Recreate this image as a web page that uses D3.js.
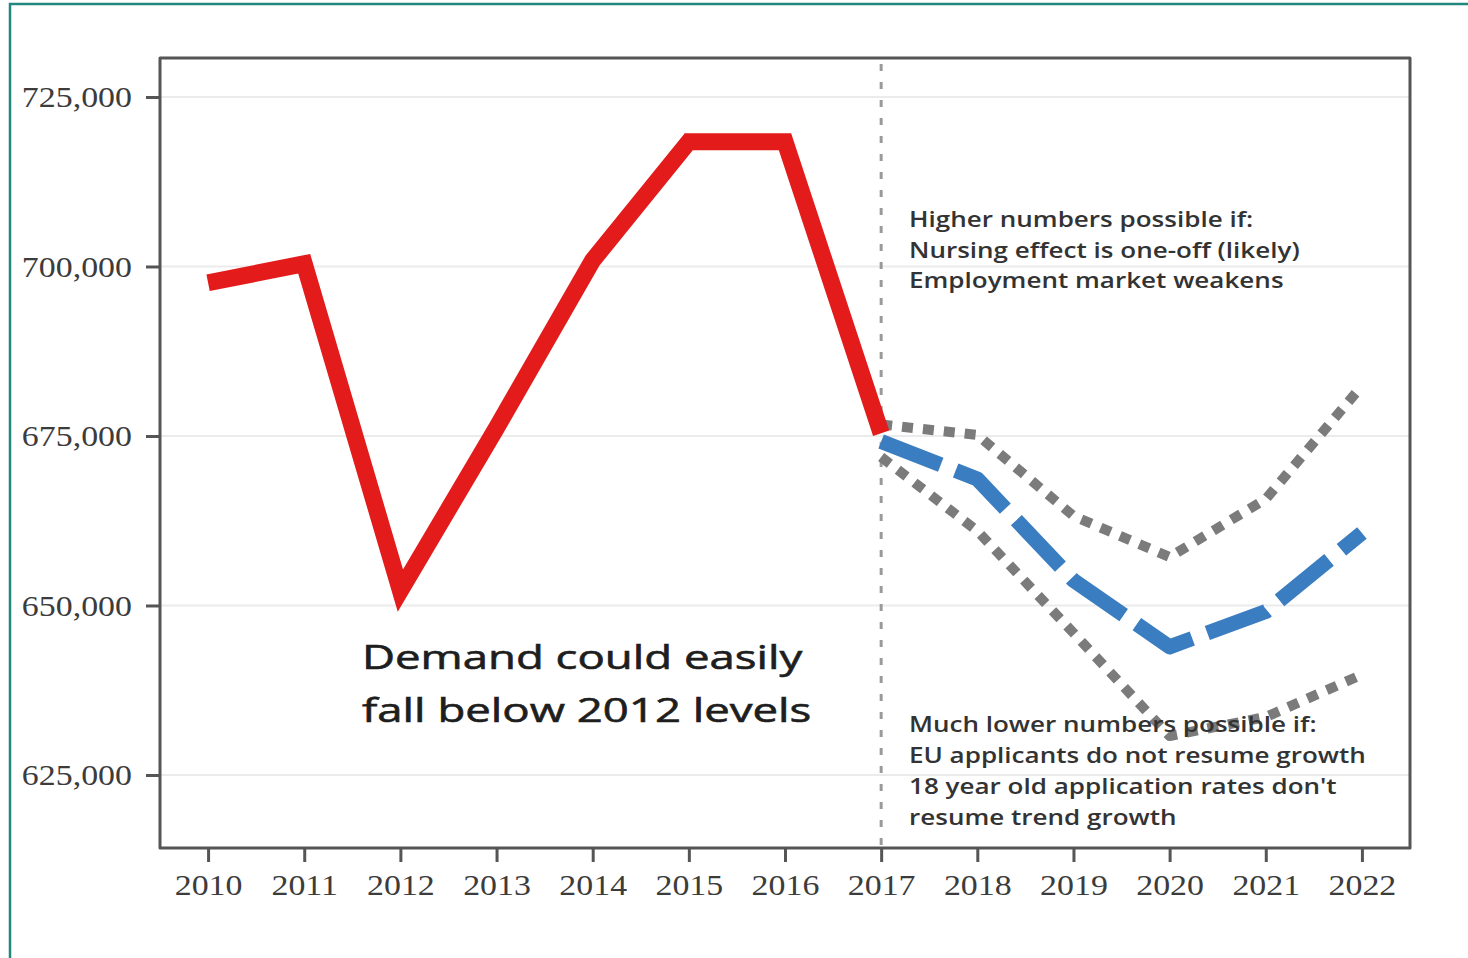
<!DOCTYPE html>
<html>
<head>
<meta charset="utf-8">
<script src="https://cdn.jsdelivr.net/npm/d3@7"></script>
<style>
  html, body { margin: 0; padding: 0; background: #ffffff; }
  svg { display: block; }
</style>
</head>
<body>
<svg id="chart" width="1468" height="958"></svg>
<script>
// Applications: actual outturn 2010-2017 and projections 2017-2022
const years = [2010, 2011, 2012, 2013, 2014, 2015, 2016, 2017, 2018, 2019, 2020, 2021, 2022];
const actualYears = [2010, 2011, 2012, 2013, 2014, 2015, 2016, 2017];
const actualValues = [697600, 700400, 652200, 676200, 700900, 718400, 718400, 675400];
const forecastYears = [2017, 2018, 2019, 2020, 2021, 2022];
const centralValues = [674200, 668650, 653700, 643900, 649100, 660700];
const upperValues = [676700, 675150, 663200, 657150, 665700, 682400];
const lowerValues = [671900, 661000, 645950, 630750, 633550, 639800];
const yTicks = [625000, 650000, 675000, 700000, 725000];
const splitYear = 2017;

const upperNote = ["Higher numbers possible if:", "Nursing effect is one-off (likely)", "Employment market weakens"];
const lowerNote = ["Much lower numbers possible if:", "EU applicants do not resume growth", "18 year old application rates don't", "resume trend growth"];
const headline = ["Demand could easily", "fall below 2012 levels"];

const svg = d3.select("#chart");
const plot = { left: 160, right: 1410, top: 58, bottom: 848 };

const x = d3.scaleLinear().domain([2009.5, 2022.5]).range([plot.left, plot.right]);
const y = d3.scaleLinear().domain([614230, 730750]).range([plot.bottom, plot.top]);

// outer page frame
svg.append("path")
  .attr("d", `M10,958 L10,4 L1468,4`)
  .attr("fill", "none")
  .attr("stroke", "#23877f")
  .attr("stroke-width", 2.5);

// horizontal gridlines
svg.append("g").selectAll("line").data(yTicks).join("line")
  .attr("x1", plot.left).attr("x2", plot.right)
  .attr("y1", d => y(d)).attr("y2", d => y(d))
  .attr("stroke", "#ebebeb").attr("stroke-width", 2);

// vertical divider between actuals and projections
svg.append("line")
  .attr("x1", x(splitYear)).attr("x2", x(splitYear))
  .attr("y1", plot.top + 6).attr("y2", plot.bottom)
  .attr("stroke", "#9a9a9a").attr("stroke-width", 3)
  .attr("stroke-dasharray", "7,11");

const serifScale = 1.13;

// y axis
const yAxis = svg.append("g")
  .attr("transform", `translate(${plot.left},0)`)
  .call(d3.axisLeft(y).tickValues(yTicks).tickFormat(d3.format(",")).tickSize(14).tickSizeOuter(0).tickPadding(14));
yAxis.select(".domain").remove();
yAxis.selectAll(".tick line").attr("stroke", "#555").attr("stroke-width", 3);
yAxis.selectAll(".tick text")
  .attr("font-family", "'Liberation Serif', 'Times New Roman', serif")
  .attr("font-size", 30)
  .attr("fill", "#3c3c3c")
  .each(function() {
    const t = d3.select(this);
    const tx = +t.attr("x");
    t.attr("x", 0).attr("transform", `translate(${tx},0) scale(${serifScale},1)`);
  });

// x axis
const xAxis = svg.append("g")
  .attr("transform", `translate(0,${plot.bottom})`)
  .call(d3.axisBottom(x).tickValues(years).tickFormat(d3.format("d")).tickSize(14).tickSizeOuter(0).tickPadding(12));
xAxis.select(".domain").remove();
xAxis.selectAll(".tick line").attr("stroke", "#555").attr("stroke-width", 3);
xAxis.selectAll(".tick text")
  .attr("font-family", "'Liberation Serif', 'Times New Roman', serif")
  .attr("font-size", 30)
  .attr("fill", "#3c3c3c")
  .each(function() {
    const t = d3.select(this);
    const ty = +t.attr("y");
    t.attr("y", 0).attr("transform", `translate(0,${ty}) scale(${serifScale},1)`);
  });

// plot frame
svg.append("rect")
  .attr("x", plot.left).attr("y", plot.top)
  .attr("width", plot.right - plot.left).attr("height", plot.bottom - plot.top)
  .attr("fill", "none").attr("stroke", "#555").attr("stroke-width", 3)
  .attr("stroke-linejoin", "round");

const line = d3.line().x(d => x(d[0])).y(d => y(d[1]));

// projection range (dotted)
[upperValues, lowerValues].forEach(vals => {
  svg.append("path")
    .datum(forecastYears.map((yr, i) => [yr, vals[i]]))
    .attr("d", line)
    .attr("fill", "none")
    .attr("stroke", "#7b7b7b")
    .attr("stroke-width", 10)
    .attr("stroke-dasharray", "11,10")
    .attr("stroke-linejoin", "round");
});

// central projection (dashed blue)
svg.append("path")
  .datum(forecastYears.map((yr, i) => [yr, centralValues[i]]))
  .attr("d", line)
  .attr("fill", "none")
  .attr("stroke", "#3a7dc0")
  .attr("stroke-width", 15)
  .attr("stroke-dasharray", "64,16")
  .attr("stroke-linejoin", "round");

// actual applications (solid red)
svg.append("path")
  .datum(actualYears.map((yr, i) => [yr, actualValues[i]]))
  .attr("d", line)
  .attr("fill", "none")
  .attr("stroke", "#e31b1b")
  .attr("stroke-width", 17)
  .attr("stroke-linejoin", "miter")
  .attr("stroke-miterlimit", 10);

// annotations
function block(lines, x0, y0, step, size, weight, stretch, color, outline) {
  const g = svg.append("g");
  lines.forEach((txt, i) => {
    g.append("text")
      .attr("transform", `translate(${x0},${y0 + i * step}) scale(${stretch},1)`)
      .attr("font-family", "'Open Sans', Lato, sans-serif")
      .attr("font-weight", weight)
      .attr("font-size", size)
      .attr("fill", color)
      .attr("stroke", outline ? color : "none")
      .attr("stroke-width", outline || 0)
      .text(txt);
  });
}
block(upperNote, 909, 227, 30.5, 21, 600, 1.24, "#333", 0);
block(lowerNote, 909, 732, 31, 21, 600, 1.24, "#333", 0);
block(headline, 362, 669, 53, 33, 400, 1.38, "#1e1e1e", 0.6);
</script>
</body>
</html>
